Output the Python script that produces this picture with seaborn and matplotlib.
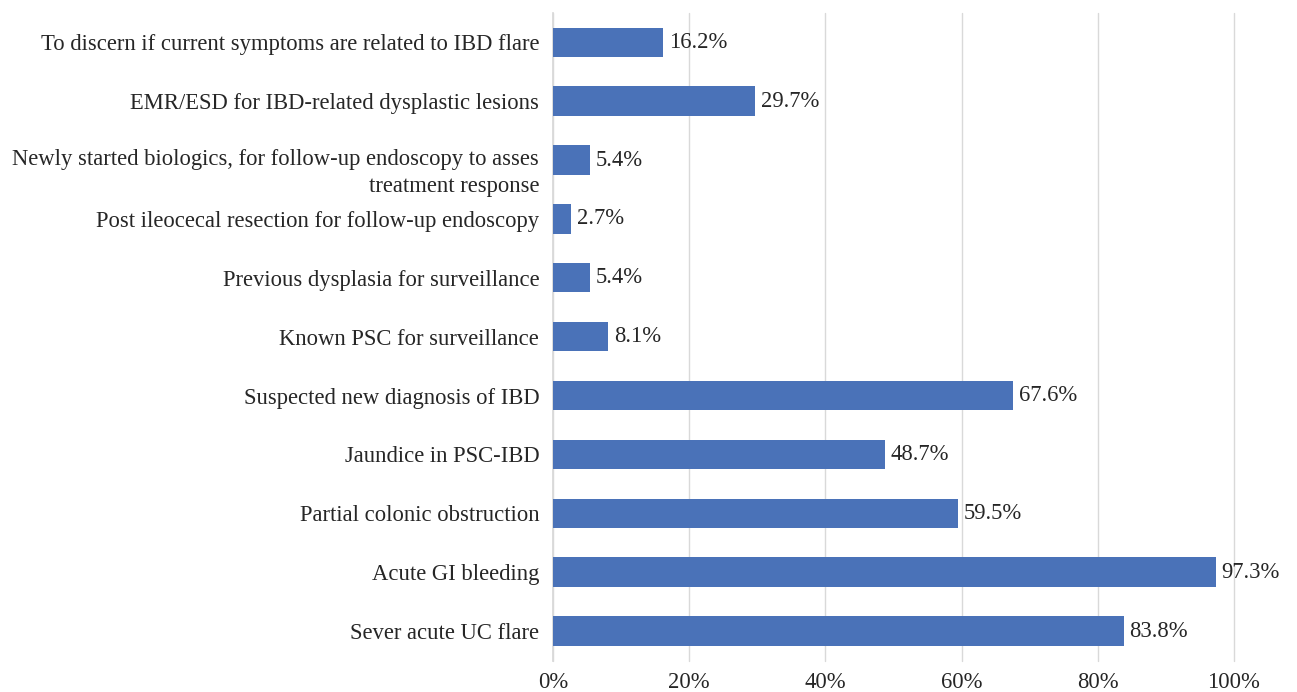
import matplotlib
matplotlib.use("Agg")
import matplotlib.pyplot as plt
import matplotlib.transforms as mtransforms
import seaborn as sns
import pandas as pd

categories = [
    "To discern if current symptoms are related to IBD flare",
    "EMR/ESD for IBD-related dysplastic lesions",
    "Newly started biologics, for follow-up endoscopy to asses\ntreatment response",
    "Post ileocecal resection for follow-up endoscopy",
    "Previous dysplasia for surveillance",
    "Known PSC for surveillance",
    "Suspected new diagnosis of IBD",
    "Jaundice in PSC-IBD",
    "Partial colonic obstruction",
    "Acute GI bleeding",
    "Sever acute UC flare",
]
percent = [16.2, 29.7, 5.4, 2.7, 5.4, 8.1, 67.6, 48.7, 59.5, 97.3, 83.8]
x_ticks = [0, 20, 40, 60, 80, 100]

df = pd.DataFrame({"category": categories, "percent": percent})

sns.set_theme(style="white")
plt.rcParams["font.family"] = ["Liberation Serif", "DejaVu Serif"]
text_color = "#262626"
fs = 16.3

fig = plt.figure(figsize=(12.97, 6.92), dpi=100)
ax = fig.add_axes([0.4264, 0.0455, 0.525, 0.936])

sns.barplot(data=df, x="percent", y="category", orient="h",
            color="#4A72B8", saturation=1, width=0.5, linewidth=0,
            ax=ax, zorder=3)

ax.bar_label(ax.containers[0], labels=[f"{v:.1f}%" for v in percent],
             padding=4, fontsize=fs, color=text_color)

ax.set_xlim(0, 100)
ax.set_xticks(x_ticks)
ax.set_xticklabels([f"{t}%" for t in x_ticks])
ax.grid(axis="x", color="#D9D9D9", linewidth=1, zorder=0)
for gl in ax.get_xgridlines():
    gl.set_clip_on(False)
ax.set_xlabel("")
ax.set_ylabel("")
for side in ["top", "right", "bottom"]:
    ax.spines[side].set_visible(False)
ax.spines["left"].set_color("#D9D9D9")
ax.tick_params(axis="y", length=0, pad=10, labelsize=fs, labelcolor=text_color)
ax.tick_params(axis="x", length=0, pad=8, labelsize=fs, labelcolor=text_color)

# wrapped category labels hang from their first line
shift_down = mtransforms.ScaledTranslation(0, -0.075, fig.dpi_scale_trans)
for lbl in ax.get_yticklabels():
    lbl.set_horizontalalignment("right")
    lbl.set_multialignment("right")
    lbl.set_linespacing(1.35)
    if "\n" in lbl.get_text():
        lbl.set_transform(lbl.get_transform() + shift_down)

fig.savefig("out.png", dpi=100)
